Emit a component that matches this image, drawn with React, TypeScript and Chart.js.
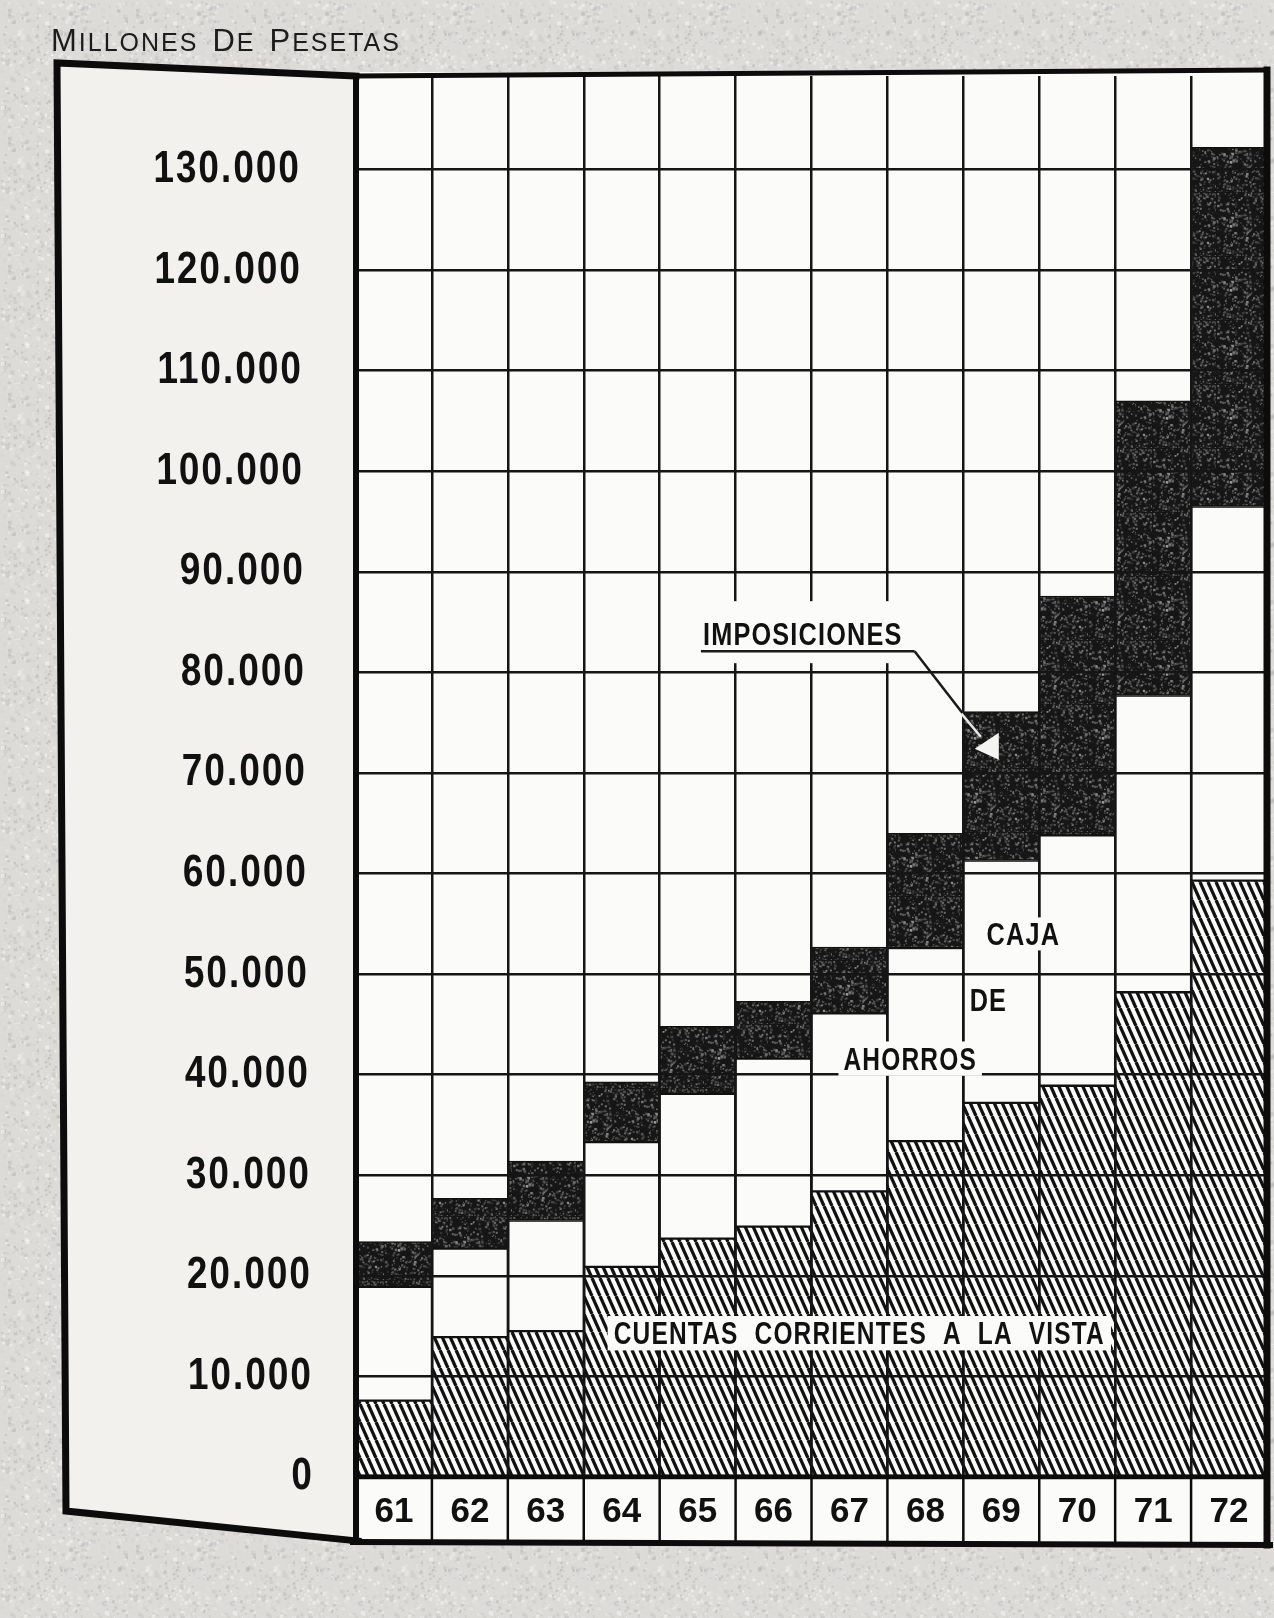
import React, { useEffect, useRef } from 'react';
import { Chart, registerables } from 'chart.js';

Chart.register(...registerables);

// ---------------- data ----------------
const YEARS = ['61', '62', '63', '64', '65', '66', '67', '68', '69', '70', '71', '72'];
const CUENTAS_CORRIENTES = [7600, 13900, 14500, 20900, 23700, 24900, 28400, 33400, 37200, 38900, 48200, 59300];
const CAJA_AHORROS = [11300, 8800, 11000, 12400, 14400, 16700, 17700, 19200, 24100, 24900, 29500, 37200];
const IMPOSICIONES = [4500, 5000, 5900, 6000, 6700, 5700, 6600, 11400, 14800, 23800, 29300, 35700];
const SERIES_NAMES = ['Cuentas corrientes a la vista', 'Caja de ahorros', 'Imposiciones'];
const Y_TICKS = [0, 10000, 20000, 30000, 40000, 50000, 60000, 70000, 80000, 90000, 100000, 110000, 120000, 130000];
const Y_MIN = 0;
const Y_MAX = 139300;
const TITLE_WORDS = ['MILLONES', 'DE', 'PESETAS'];

// ---------------- styles ----------------
const BOLD_FAMILY = "'Liberation Sans', Arimo, Arial, sans-serif";
const SANS = "'Liberation Sans', Arial, sans-serif";
const INK = '#111111';
const PAPER_WHITE = '#fbfbf9';
const SQUEEZE = 0.79; // horizontal compression of the condensed typeface
const Y_LABEL_PAD = 46;

function lcg(seed: number) {
  let s = seed >>> 0;
  return () => {
    s = (Math.imul(s, 1664525) + 1013904223) >>> 0;
    return s / 4294967296;
  };
}

function makeHatch(): CanvasPattern {
  const c = document.createElement('canvas');
  c.width = 8;
  c.height = 18;
  const g = c.getContext('2d')!;
  g.fillStyle = PAPER_WHITE;
  g.fillRect(0, 0, 8, 18);
  g.strokeStyle = INK;
  g.lineWidth = 3.3;
  for (let k = -2; k <= 2; k++) {
    g.beginPath();
    g.moveTo(k * 8, 0);
    g.lineTo(k * 8 + 8, 18);
    g.stroke();
  }
  return g.createPattern(c, 'repeat')!;
}

function makeSpeckle(): CanvasPattern {
  const c = document.createElement('canvas');
  c.width = 64;
  c.height = 64;
  const g = c.getContext('2d')!;
  g.fillStyle = '#161616';
  g.fillRect(0, 0, 64, 64);
  const r = lcg(12345);
  for (let i = 0; i < 420; i++) {
    const x = r() * 64, y = r() * 64, s = 1 + r() * 1.6;
    const l = Math.round(70 + r() * 110);
    g.fillStyle = `rgba(${l},${l},${l},${0.35 + r() * 0.4})`;
    g.fillRect(x, y, s, s);
  }
  return g.createPattern(c, 'repeat')!;
}

function makePaper(): CanvasPattern {
  const c = document.createElement('canvas');
  c.width = 128;
  c.height = 128;
  const g = c.getContext('2d')!;
  g.fillStyle = '#dddbd7';
  g.fillRect(0, 0, 128, 128);
  const r = lcg(987);
  for (let i = 0; i < 900; i++) {
    const x = r() * 128, y = r() * 128, s = 1 + r() * 3;
    const l = Math.round(175 + r() * 80);
    g.fillStyle = `rgba(${l},${l},${l},0.5)`;
    g.fillRect(x, y, s, s);
  }
  return g.createPattern(c, 'repeat')!;
}

function fmtThousands(v: number): string {
  if (v === 0) return '0';
  return String(v).replace(/\B(?=(\d{3})+(?!\d))/g, '.');
}

function leftPanelPath(ctx: CanvasRenderingContext2D, a: any, rowBottom: number) {
  ctx.beginPath();
  ctx.moveTo(a.left, a.top);
  ctx.lineTo(a.left - 299, a.top - 13);
  ctx.lineTo(a.left - 290, rowBottom - 31);
  ctx.lineTo(a.left + 2, rowBottom - 1);
}

const LABEL_ROW = 65;

// Paints the paper, and squeezes the y tick labels (drawn by Chart.js before the datasets)
const paperPlugin = {
  id: 'paperBackground',
  beforeDraw(chart: any, _args: any, opts: any) {
    const ctx: CanvasRenderingContext2D = chart.ctx;
    const a = chart.chartArea;
    const ys = chart.scales.y;
    const rowBottom = a.bottom + LABEL_ROW;
    ctx.save();
    ctx.fillStyle = opts.paper;
    ctx.fillRect(0, 0, chart.width, chart.height);
    leftPanelPath(ctx, a, rowBottom);
    ctx.closePath();
    ctx.fillStyle = '#f2f1ee';
    ctx.fill();
    ctx.fillStyle = PAPER_WHITE;
    ctx.fillRect(a.left, a.top - 4, a.right - a.left, rowBottom - a.top + 4);
    ctx.restore();
    // condensed, slightly drifting y labels, as on the printed page
    ctx.save();
    const X = a.left - Y_LABEL_PAD;
    const yTop = ys.getPixelForValue(Y_TICKS[Y_TICKS.length - 1]);
    const yBot = ys.getPixelForValue(Y_TICKS[0]);
    const xTop = a.left - 55;
    const xBot = a.left - 42;
    const k = (xBot - xTop) / (yBot - yTop);
    const s = SQUEEZE + 0.03;
    ctx.transform(s, 0, k, 1, X - s * X - k * yTop + (xTop - X), 0);
    (ctx as any).letterSpacing = '2.5px';
  },
  beforeDatasetsDraw(chart: any) {
    chart.ctx.restore();
  },
};

function line(ctx: CanvasRenderingContext2D, x1: number, y1: number, x2: number, y2: number, w: number) {
  ctx.lineWidth = w;
  ctx.beginPath();
  ctx.moveTo(x1, y1);
  ctx.lineTo(x2, y2);
  ctx.stroke();
}

function squeezedText(
  ctx: CanvasRenderingContext2D,
  text: string,
  x: number,
  cy: number,
  size: number,
  padX: number,
  padY: number,
  align: 'center' | 'left' = 'center',
  box = true,
) {
  ctx.font = `bold ${size}px ${BOLD_FAMILY}`;
  (ctx as any).letterSpacing = '1.5px';
  const w = ctx.measureText(text).width * SQUEEZE;
  const left = align === 'center' ? x - w / 2 : x;
  const capH = size * 0.72;
  if (box) {
    ctx.fillStyle = PAPER_WHITE;
    ctx.fillRect(left - padX, cy - capH / 2 - padY, w + padX * 2, capH + padY * 2);
  }
  ctx.fillStyle = INK;
  ctx.textAlign = 'left';
  ctx.textBaseline = 'alphabetic';
  ctx.save();
  ctx.translate(left, cy + capH / 2);
  ctx.scale(SQUEEZE, 1);
  ctx.fillText(text, 0, 0);
  ctx.restore();
  (ctx as any).letterSpacing = '0px';
  return { left, width: w, capH };
}

const framePlugin = {
  id: 'oldFrame',
  afterDraw(chart: any) {
    const ctx: CanvasRenderingContext2D = chart.ctx;
    const a = chart.chartArea;
    const xs = chart.scales.x;
    const ys = chart.scales.y;
    const rowBottom = a.bottom + LABEL_ROW;
    const px = (i: number) => xs.getPixelForValue(i);
    const py = (v: number) => ys.getPixelForValue(v);
    ctx.save();
    ctx.strokeStyle = '#0c0c0c';
    ctx.lineCap = 'square';
    ctx.lineJoin = 'miter';

    // zero line and label-row cells
    line(ctx, a.left, a.bottom, a.right, a.bottom, 4.5);
    for (let i = 1; i < YEARS.length; i++) {
      const x = (px(i - 1) + px(i)) / 2;
      line(ctx, x, a.bottom, x, rowBottom, 2.5);
    }
    line(ctx, a.left - 3, rowBottom, a.right + 3, rowBottom + 3, 6);
    // plot borders
    line(ctx, a.left, a.top, a.left, rowBottom, 6);
    line(ctx, a.right, a.top - 6, a.right, rowBottom + 3, 7);
    line(ctx, a.left, a.top, a.right, a.top - 6, 5);
    // left panel frame
    ctx.lineWidth = 7;
    leftPanelPath(ctx, a, rowBottom);
    ctx.stroke();

    // ---- in-chart labels ----
    // IMPOSICIONES with leader and arrow into the 1969 block
    const impX = px(4.07);
    const impY = py(83900);
    ctx.font = `bold 32px ${BOLD_FAMILY}`;
    (ctx as any).letterSpacing = '1.5px';
    const impW = ctx.measureText('IMPOSICIONES').width * SQUEEZE;
    (ctx as any).letterSpacing = '0px';
    ctx.fillStyle = PAPER_WHITE;
    ctx.fillRect(impX - 22, impY - 32, impW + 48, 62);
    squeezedText(ctx, 'IMPOSICIONES', impX, impY, 32, 0, 0, 'left', false);
    const ulY = impY + 18;
    const ulEnd = impX + impW + 12;
    ctx.strokeStyle = '#1a1a1a';
    ctx.lineCap = 'butt';
    line(ctx, impX - 2, ulY, ulEnd, ulY, 2.5);
    const ex = px(7.73);
    const ey = py(73600);
    line(ctx, ulEnd, ulY, ex, ey, 2.5);
    // part of the leader over the dark block shows white
    const i69 = 8;
    const blockTop = py(CUENTAS_CORRIENTES[i69] + CAJA_AHORROS[i69] + IMPOSICIONES[i69]);
    if (blockTop > ulY && blockTop < ey) {
      const t = (blockTop - ulY) / (ey - ulY);
      const bx = ulEnd + t * (ex - ulEnd);
      ctx.strokeStyle = '#e8e8e6';
      line(ctx, bx, blockTop + 2, ex, ey, 2.5);
    }
    ctx.fillStyle = '#f4f4f2';
    ctx.beginPath();
    ctx.moveTo(ex - 6, ey + 12);
    ctx.lineTo(ex + 18, ey - 4);
    ctx.lineTo(ex + 18, ey + 23);
    ctx.closePath();
    ctx.fill();

    // CAJA DE AHORROS
    squeezedText(ctx, 'CAJA', px(8.29), py(54000), 32, 4, 5);
    squeezedText(ctx, 'DE', px(7.83), py(47500), 32, 4, 5);
    squeezedText(ctx, 'AHORROS', px(6.8), py(41600), 31, 5, 6);

    // CUENTAS CORRIENTES A LA VISTA
    squeezedText(ctx, 'CUENTAS  CORRIENTES  A  LA  VISTA', px(6.13), py(14300), 31, 6, 6);

    // title (small caps)
    ctx.fillStyle = '#1c1c1c';
    ctx.textAlign = 'left';
    ctx.textBaseline = 'alphabetic';
    (ctx as any).letterSpacing = '2px';
    let x = 51;
    const base = 51;
    for (const w of TITLE_WORDS) {
      ctx.font = `31px ${SANS}`;
      ctx.fillText(w[0], x, base);
      x += ctx.measureText(w[0]).width;
      ctx.font = `25px ${SANS}`;
      ctx.fillText(w.slice(1), x, base);
      x += ctx.measureText(w.slice(1)).width + 14;
    }
    (ctx as any).letterSpacing = '0px';
    ctx.restore();
  },
};

export default function App() {
  const ref = useRef<HTMLCanvasElement>(null);

  useEffect(() => {
    const canvas = ref.current;
    if (!canvas) return;
    const hatch = makeHatch();
    const speck = makeSpeckle();
    const paper = makePaper();
    const common = {
      borderColor: '#111111',
      borderWidth: 1.5,
      borderSkipped: false,
      categoryPercentage: 1,
      barPercentage: 1,
      stack: 'total',
    };
    const chart = new Chart(canvas, {
      type: 'bar',
      data: {
        labels: YEARS,
        datasets: [
          { ...common, label: SERIES_NAMES[0], data: CUENTAS_CORRIENTES, backgroundColor: hatch },
          { ...common, label: SERIES_NAMES[1], data: CAJA_AHORROS, backgroundColor: PAPER_WHITE },
          { ...common, label: SERIES_NAMES[2], data: IMPOSICIONES, backgroundColor: speck },
        ],
      } as any,
      options: {
        responsive: false,
        animation: false,
        devicePixelRatio: 1,
        layout: { padding: { left: 51, top: 76, right: 7, bottom: 76 } },
        plugins: {
          legend: { display: false },
          tooltip: { enabled: false },
          title: { display: false },
          paperBackground: { paper },
        } as any,
        scales: {
          x: {
            stacked: true,
            grid: { offset: true, color: '#151515', lineWidth: 2.5, drawTicks: false, z: 1 },
            border: { display: false },
            ticks: {
              z: 1,
              font: { family: BOLD_FAMILY, size: 35, weight: 'bold' },
              color: INK,
              padding: 14,
              maxRotation: 0,
              autoSkip: false,
            },
            afterFit: (s: any) => {
              s.height = LABEL_ROW;
            },
          },
          y: {
            stacked: true,
            min: Y_MIN,
            max: Y_MAX,
            grid: { color: '#151515', lineWidth: 2.5, drawTicks: false, z: 1 },
            border: { display: false },
            ticks: {
              z: 0,
              font: { family: BOLD_FAMILY, size: 45, weight: 'bold' },
              color: INK,
              padding: Y_LABEL_PAD,
              autoSkip: false,
              callback: (v: any) => fmtThousands(Number(v)),
            },
            afterBuildTicks: (s: any) => {
              s.ticks = Y_TICKS.map((v) => ({ value: v }));
            },
            afterFit: (s: any) => {
              s.width = 305;
            },
          },
        } as any,
      },
      plugins: [paperPlugin, framePlugin],
    });
    return () => chart.destroy();
  }, []);

  return (
    <div style={{ position: 'absolute', left: 0, top: 0, width: 1274, height: 1618, overflow: 'hidden' }}>
      <canvas ref={ref} width={1274} height={1618} style={{ display: 'block' }} />
    </div>
  );
}
